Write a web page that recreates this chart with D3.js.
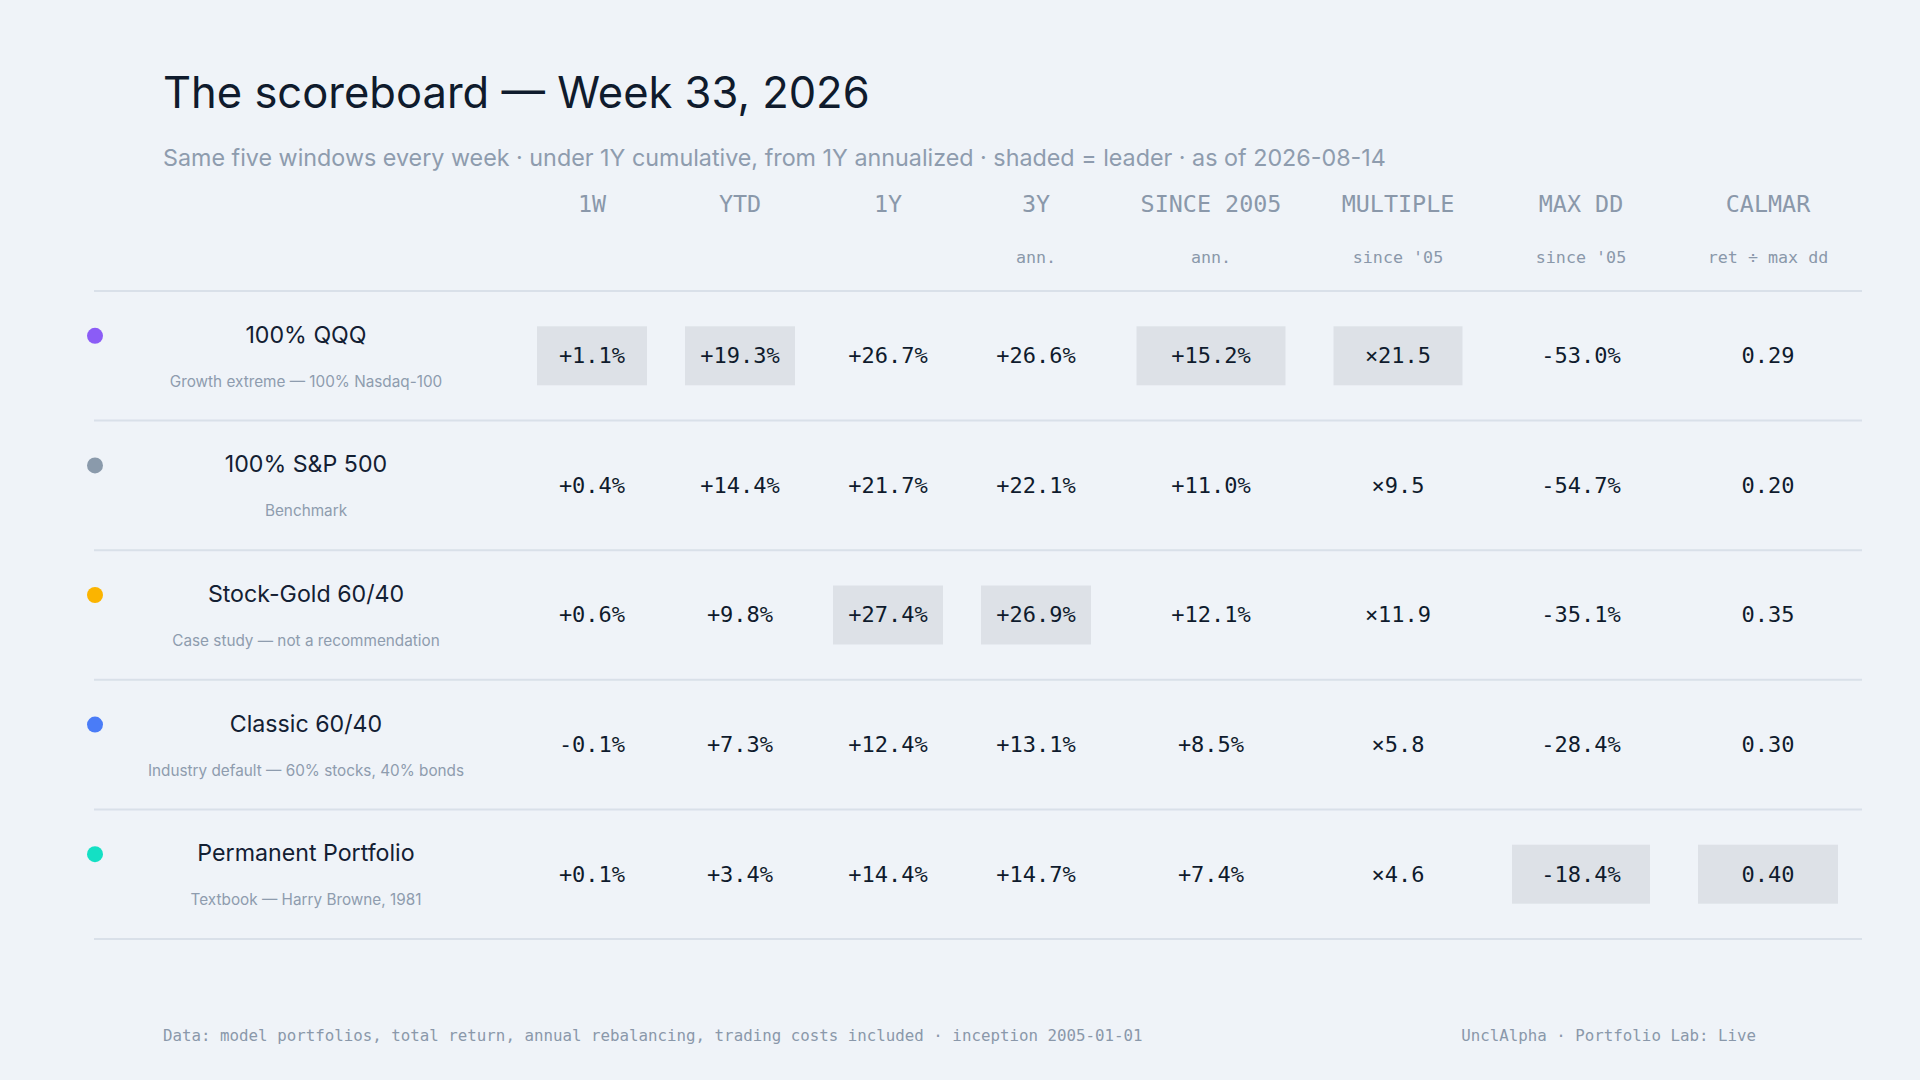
<!DOCTYPE html>
<html>
<head>
<meta charset="utf-8">
<script src="https://cdn.jsdelivr.net/npm/d3@7"></script>
<style>
  html, body { margin: 0; padding: 0; background: #eff3f8; }
  svg { display: block; }
</style>
</head>
<body>
<svg id="chart"></svg>
<script>
// ---- data ----
const portfolios = ['100% QQQ', '100% S&P 500', 'Stock-Gold 60/40', 'Classic 60/40', 'Permanent Portfolio'];
const descriptions = [
  'Growth extreme — 100% Nasdaq-100',
  'Benchmark',
  'Case study — not a recommendation',
  'Industry default — 60% stocks, 40% bonds',
  'Textbook — Harry Browne, 1981'
];
const portfolioColors = ['#8b5cf6', '#8a9aab', '#fbb400', '#4a7cf7', '#14e0c4'];

const columnLabels = ['1W', 'YTD', '1Y', '3Y', 'SINCE 2005', 'MULTIPLE', 'MAX DD', 'CALMAR'];
const columnSubLabels = ['', '', '', 'ann.', 'ann.', "since '05", "since '05", 'ret ÷ max dd'];

const oneWeek   = [1.1, 0.4, 0.6, -0.1, 0.1];
const ytd       = [19.3, 14.4, 9.8, 7.3, 3.4];
const oneYear   = [26.7, 21.7, 27.4, 12.4, 14.4];
const threeYear = [26.6, 22.1, 26.9, 13.1, 14.7];
const since2005 = [15.2, 11.0, 12.1, 8.5, 7.4];
const multiple  = [21.5, 9.5, 11.9, 5.8, 4.6];
const maxDD     = [-53.0, -54.7, -35.1, -28.4, -18.4];
const calmar    = [0.29, 0.20, 0.35, 0.30, 0.40];

// ---- layout ----
const W = 1920, H = 1080;
const FONT = 'Inter, "DejaVu Sans", sans-serif';
const MONO = '"DejaVu Sans Mono", "Liberation Mono", monospace';

const pct = v => (v < 0 ? '-' : '+') + Math.abs(v).toFixed(1) + '%';
const columns = [
  { values: oneWeek,   fmt: pct,                     w: 148, box: 110 },
  { values: ytd,       fmt: pct,                     w: 148, box: 110 },
  { values: oneYear,   fmt: pct,                     w: 148, box: 110 },
  { values: threeYear, fmt: pct,                     w: 148, box: 110 },
  { values: since2005, fmt: pct,                     w: 202, box: 149 },
  { values: multiple,  fmt: v => '×' + v.toFixed(1), w: 172, box: 129 },
  { values: maxDD,     fmt: pct,                     w: 194, box: 138 },
  { values: calmar,    fmt: v => v.toFixed(2),       w: 180, box: 140 }
];
columns.forEach((c, i) => { c.label = columnLabels[i]; c.sub = columnSubLabels[i]; });

const tableLeft = 94, tableRight = 1862, colStart = 518;
let acc = colStart;
columns.forEach(c => { c.cx = acc + c.w / 2; acc += c.w; });

const y = d3.scaleBand().domain(d3.range(portfolios.length)).range([291, 939]);

const svg = d3.select('#chart').attr('width', W).attr('height', H);
svg.append('rect').attr('width', W).attr('height', H).attr('fill', '#eff3f8');

// titles
svg.append('text')
  .attr('x', 163).attr('y', 108)
  .attr('font-family', FONT).attr('font-size', 43.5).attr('font-weight', 400)
  .attr('fill', '#0f1b2d')
  .text('The scoreboard — Week 33, 2026');

svg.append('text')
  .attr('x', 163).attr('y', 166)
  .attr('font-family', FONT).attr('font-size', 23.3)
  .attr('fill', '#8e9cae')
  .text('Same five windows every week · under 1Y cumulative, from 1Y annualized · shaded = leader · as of 2026-08-14');

// column headers
const head = svg.append('g').attr('class', 'header');
head.selectAll('text.col')
  .data(columns).join('text')
  .attr('class', 'col')
  .attr('x', d => d.cx).attr('y', 212)
  .attr('text-anchor', 'middle')
  .attr('font-family', MONO).attr('font-size', 23.4)
  .attr('fill', '#8a98aa')
  .text(d => d.label);

head.selectAll('text.sub')
  .data(columns.filter(d => d.sub)).join('text')
  .attr('class', 'sub')
  .attr('x', d => d.cx).attr('y', 263)
  .attr('text-anchor', 'middle')
  .attr('font-family', MONO).attr('font-size', 16.7)
  .attr('fill', '#8a98aa')
  .text(d => d.sub);

// row separators
svg.append('g').selectAll('line')
  .data([291].concat(portfolios.map((_, i) => y(i) + y.bandwidth())))
  .join('line')
  .attr('x1', tableLeft).attr('x2', tableRight)
  .attr('y1', d => d).attr('y2', d => d)
  .attr('stroke', '#d9e0e9').attr('stroke-width', 2);

// rows
const rows = svg.append('g').selectAll('g.row')
  .data(portfolios).join('g')
  .attr('class', 'row')
  .attr('transform', (d, i) => `translate(0,${y(i)})`);

const bh = y.bandwidth();

rows.append('circle')
  .attr('cx', 95).attr('cy', bh / 2 - 20)
  .attr('r', 8)
  .attr('fill', (d, i) => portfolioColors[i]);

rows.append('text')
  .attr('x', 306).attr('y', bh / 2 - 13)
  .attr('text-anchor', 'middle')
  .attr('font-family', FONT).attr('font-size', 23.2)
  .attr('fill', '#132033')
  .text(d => d);

rows.append('text')
  .attr('x', 306).attr('y', bh / 2 + 31)
  .attr('text-anchor', 'middle')
  .attr('font-family', FONT).attr('font-size', 15.3)
  .attr('fill', '#8e9cae')
  .text((d, i) => descriptions[i]);

// cells
columns.forEach(c => {
  const best = d3.max(c.values);
  rows.filter((d, i) => c.values[i] === best)
    .append('rect')
    .attr('x', c.cx - c.box / 2).attr('y', bh / 2 - 29.5)
    .attr('width', c.box).attr('height', 59)
    .attr('fill', '#dde1e7');
  rows.append('text')
    .attr('x', c.cx).attr('y', bh / 2 + 7.5)
    .attr('text-anchor', 'middle')
    .attr('font-family', MONO).attr('font-size', 22)
    .attr('fill', '#0f1b2d')
    .text((d, i) => c.fmt(c.values[i]));
});

// footer
svg.append('text')
  .attr('x', 163).attr('y', 1041)
  .attr('font-family', MONO).attr('font-size', 15.8)
  .attr('fill', '#8a98aa')
  .text('Data: model portfolios, total return, annual rebalancing, trading costs included · inception 2005-01-01');

svg.append('text')
  .attr('x', 1756).attr('y', 1041)
  .attr('text-anchor', 'end')
  .attr('font-family', MONO).attr('font-size', 15.8)
  .attr('fill', '#8a98aa')
  .text('UnclAlpha · Portfolio Lab: Live');
</script>
</body>
</html>
